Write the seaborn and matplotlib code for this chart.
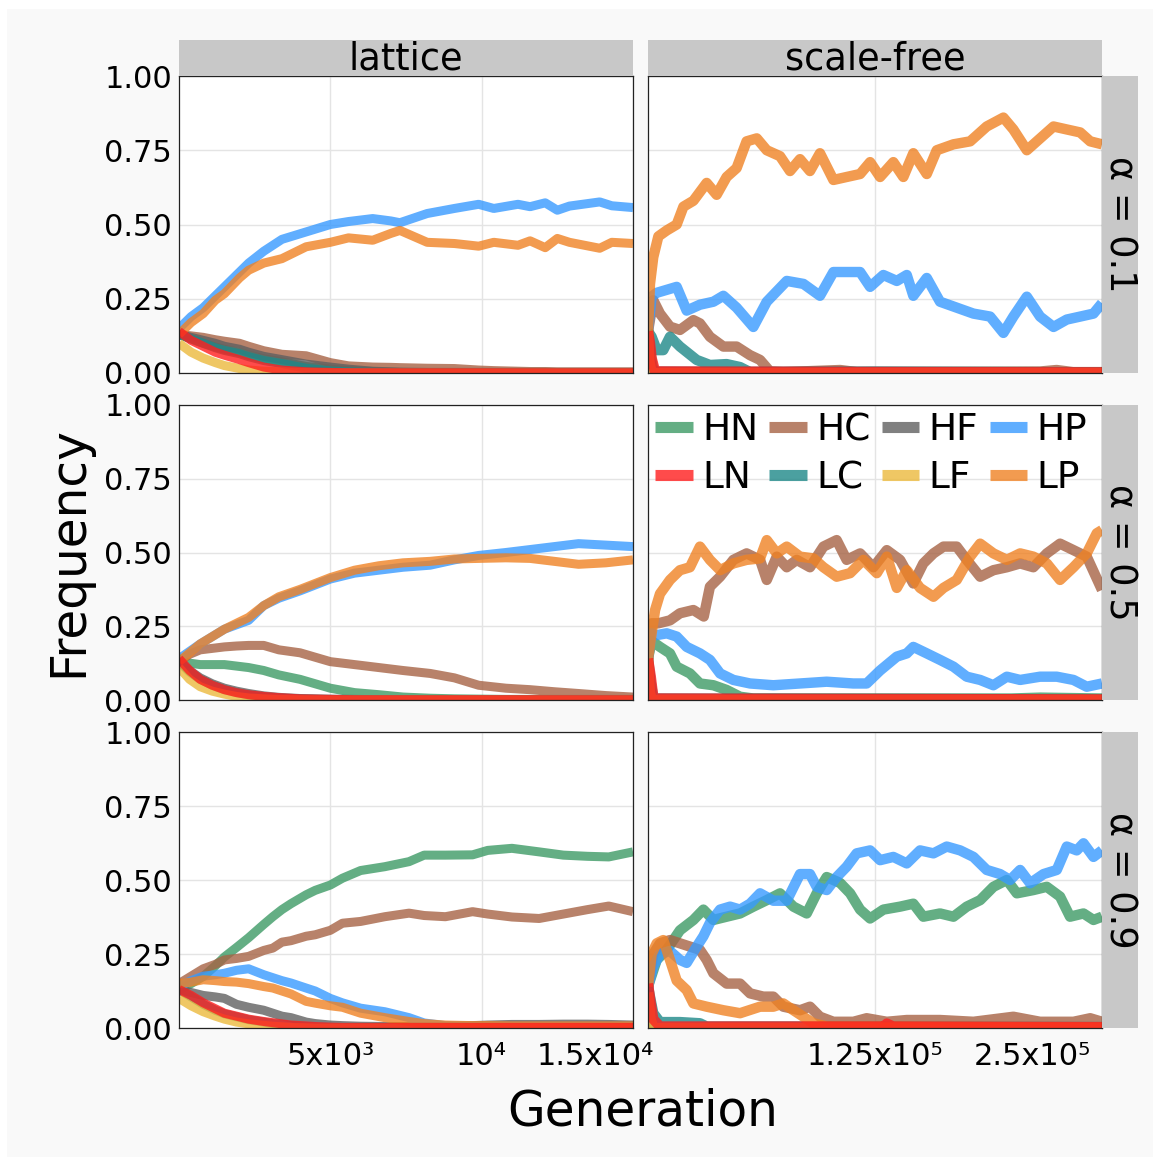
import numpy as np
import pandas as pd
import matplotlib
matplotlib.use("Agg")
import matplotlib.pyplot as plt
from matplotlib.patches import Rectangle
from matplotlib.lines import Line2D
import matplotlib.transforms as mtransforms
import seaborn as sns

# ---------------- data ----------------
strategies = ["HN", "HC", "HF", "HP", "LN", "LC", "LF", "LP"]
networks = ["lattice", "scale-free"]
alphas = ["α = 0.1", "α = 0.5", "α = 0.9"]

# lattice, alpha = 0.1 (generation grid shared by all strategies)
lat01_x = [0, 400, 800, 1200, 1500, 2000, 2300, 2800, 3400, 4200, 5000, 5600, 6400, 7000,
           7300, 8200, 9100, 9900, 10400, 11200, 11600, 12100, 12500, 12900, 13900, 14300, 15000]
lat01 = {
    "HP": [0.15, 0.19, 0.22, 0.26, 0.29, 0.34, 0.37, 0.41, 0.45, 0.475, 0.50, 0.51, 0.52, 0.512,
           0.506, 0.537, 0.554, 0.568, 0.554, 0.568, 0.56, 0.573, 0.548, 0.562, 0.576, 0.563, 0.557],
    "LP": [0.13, 0.17, 0.20, 0.245, 0.267, 0.32, 0.346, 0.37, 0.385, 0.425, 0.44, 0.455, 0.447, 0.47,
           0.48, 0.44, 0.436, 0.427, 0.44, 0.43, 0.445, 0.422, 0.453, 0.44, 0.42, 0.44, 0.436],
    "HC": [0.13, 0.125, 0.12, 0.112, 0.107, 0.1, 0.09, 0.075, 0.063, 0.058, 0.035, 0.024, 0.02, 0.019,
           0.018, 0.016, 0.015, 0.01, 0.008, 0.006, 0.005, 0.005, 0.004, 0.004, 0.004, 0.004, 0.004],
    "HF": [0.13, 0.12, 0.11, 0.1, 0.09, 0.08, 0.07, 0.056, 0.045, 0.03, 0.02, 0.013, 0.006, 0.004,
           0.003, 0.002, 0.002, 0.002, 0.002, 0.002, 0.002, 0.002, 0.002, 0.002, 0.002, 0.002, 0.002],
    "HN": [0.13, 0.115, 0.1, 0.088, 0.08, 0.07, 0.06, 0.048, 0.038, 0.022, 0.013, 0.008, 0.005, 0.003,
           0.002, 0.001, 0.001, 0.001, 0.001, 0.001, 0.001, 0.001, 0.001, 0.001, 0.001, 0.001, 0.001],
    "LC": [0.13, 0.115, 0.1, 0.085, 0.076, 0.065, 0.055, 0.042, 0.032, 0.016, 0.007, 0.004, 0.002, 0.001,
           0.001, 0.001, 0.001, 0.001, 0.001, 0.001, 0.001, 0.001, 0.001, 0.001, 0.001, 0.001, 0.001],
    "LN": [0.14, 0.11, 0.09, 0.07, 0.06, 0.045, 0.035, 0.02, 0.01, 0.004, 0.002, 0.001, 0.001, 0.001,
           0.001, 0.001, 0.001, 0.001, 0.001, 0.001, 0.001, 0.001, 0.001, 0.001, 0.001, 0.001, 0.001],
    "LF": [0.10, 0.07, 0.05, 0.035, 0.025, 0.015, 0.01, 0.006, 0.004, 0.002, 0.001, 0.0, 0.0, 0.0,
           0.0, 0.0, 0.0, 0.0, 0.0, 0.0, 0.0, 0.0, 0.0, 0.0, 0.0, 0.0, 0.0],
}

# lattice, alpha = 0.5
lat05_x = [0, 350, 700, 1100, 1500, 1900, 2300, 2800, 3300, 4000, 5000, 5800, 6600, 7400, 8300,
           9100, 9900, 10800, 11600, 12400, 13200, 14100, 15000]
lat05 = {
    "HP": [0.14, 0.165, 0.19, 0.215, 0.24, 0.255, 0.27, 0.32, 0.345, 0.37, 0.41, 0.43, 0.44, 0.45,
           0.457, 0.475, 0.49, 0.5, 0.51, 0.52, 0.53, 0.525, 0.52],
    "LP": [0.13, 0.16, 0.19, 0.215, 0.24, 0.26, 0.28, 0.32, 0.35, 0.375, 0.415, 0.44, 0.455, 0.465,
           0.47, 0.478, 0.48, 0.482, 0.48, 0.47, 0.46, 0.465, 0.475],
    "HC": [0.13, 0.155, 0.17, 0.175, 0.18, 0.183, 0.185, 0.185, 0.17, 0.16, 0.13, 0.12, 0.11, 0.1,
           0.09, 0.075, 0.05, 0.04, 0.035, 0.028, 0.022, 0.015, 0.01],
    "HN": [0.13, 0.125, 0.12, 0.12, 0.12, 0.115, 0.11, 0.1, 0.085, 0.07, 0.04, 0.025, 0.018, 0.01,
           0.006, 0.004, 0.003, 0.002, 0.002, 0.002, 0.002, 0.002, 0.002],
    "HF": [0.13, 0.1, 0.075, 0.055, 0.04, 0.03, 0.022, 0.014, 0.009, 0.005, 0.003, 0.002, 0.001, 0.001,
           0.001, 0.001, 0.001, 0.001, 0.001, 0.001, 0.001, 0.001, 0.001],
    "LC": [0.13, 0.095, 0.07, 0.05, 0.035, 0.025, 0.017, 0.01, 0.006, 0.003, 0.001, 0.0, 0.0, 0.0,
           0.0, 0.0, 0.0, 0.0, 0.0, 0.0, 0.0, 0.0, 0.0],
    "LN": [0.14, 0.1, 0.07, 0.05, 0.035, 0.025, 0.018, 0.012, 0.008, 0.004, 0.002, 0.001, 0.001, 0.001,
           0.001, 0.001, 0.001, 0.001, 0.001, 0.001, 0.001, 0.001, 0.001],
    "LF": [0.11, 0.07, 0.045, 0.03, 0.02, 0.012, 0.007, 0.004, 0.002, 0.001, 0.0, 0.0, 0.0, 0.0,
           0.0, 0.0, 0.0, 0.0, 0.0, 0.0, 0.0, 0.0, 0.0],
}

# lattice, alpha = 0.9
lat09_x = [0, 400, 800, 1200, 1500, 1900, 2300, 2800, 3100, 3400, 3700, 4200, 4500, 5000, 5400,
           6000, 6800, 7600, 8100, 8800, 9700, 10200, 11000, 11900, 12700, 13500, 14200, 15000]
lat09 = {
    "HN": [0.13, 0.15, 0.174, 0.21, 0.24, 0.272, 0.305, 0.35, 0.376, 0.4, 0.42, 0.45, 0.465, 0.483,
           0.506, 0.532, 0.545, 0.562, 0.584, 0.584, 0.585, 0.6, 0.607, 0.595, 0.584, 0.58, 0.578, 0.595],
    "HC": [0.15, 0.175, 0.2, 0.215, 0.23, 0.235, 0.242, 0.262, 0.27, 0.29, 0.295, 0.31, 0.315, 0.33,
           0.354, 0.36, 0.376, 0.388, 0.38, 0.376, 0.393, 0.385, 0.375, 0.37, 0.385, 0.4, 0.412, 0.393],
    "HP": [0.14, 0.16, 0.175, 0.18, 0.185, 0.195, 0.2, 0.18, 0.17, 0.16, 0.152, 0.135, 0.125, 0.1,
           0.085, 0.067, 0.055, 0.035, 0.017, 0.008, 0.005, 0.004, 0.004, 0.004, 0.004, 0.004, 0.004, 0.004],
    "LP": [0.15, 0.155, 0.163, 0.16, 0.157, 0.155, 0.15, 0.14, 0.135, 0.125, 0.115, 0.09, 0.084, 0.075,
           0.07, 0.05, 0.035, 0.022, 0.015, 0.01, 0.008, 0.008, 0.007, 0.007, 0.007, 0.007, 0.007, 0.007],
    "HF": [0.13, 0.12, 0.11, 0.105, 0.1, 0.08, 0.07, 0.06, 0.05, 0.04, 0.035, 0.02, 0.015, 0.01,
           0.008, 0.006, 0.005, 0.005, 0.005, 0.006, 0.008, 0.01, 0.012, 0.012, 0.013, 0.013, 0.012, 0.01],
    "LN": [0.13, 0.11, 0.085, 0.065, 0.05, 0.04, 0.03, 0.022, 0.018, 0.014, 0.01, 0.007, 0.005, 0.003,
           0.002, 0.002, 0.002, 0.002, 0.002, 0.002, 0.002, 0.002, 0.002, 0.002, 0.002, 0.002, 0.002, 0.002],
    "LC": [0.13, 0.105, 0.08, 0.06, 0.048, 0.038, 0.028, 0.02, 0.015, 0.011, 0.008, 0.005, 0.003, 0.002,
           0.001, 0.001, 0.001, 0.001, 0.001, 0.001, 0.001, 0.001, 0.001, 0.001, 0.001, 0.001, 0.001, 0.001],
    "LF": [0.1, 0.075, 0.055, 0.04, 0.03, 0.02, 0.014, 0.009, 0.006, 0.004, 0.002, 0.001, 0.0, 0.0,
           0.0, 0.0, 0.0, 0.0, 0.0, 0.0, 0.0, 0.0, 0.0, 0.0, 0.0, 0.0, 0.0, 0.0],
}

# scale-free panels: each strategy has (generation in thousands, frequency)
sf01 = {
    "LP": ([0, 1.1, 2.9, 5.7, 10.3, 15.8, 19.5, 25, 32.3, 37.8, 43.3, 48.8, 54.3, 59.9, 65.4, 72.7,
            78.2, 83.7, 89.2, 94.7, 102.1, 109.4, 116.8, 122.3, 127.8, 135.1, 140.6, 146.1, 153.5,
            159, 168.2, 177.4, 186.5, 195.7, 201.2, 208.6, 214.1, 223.3, 230.6, 238, 243.5, 250],
           [0.14, 0.3, 0.39, 0.46, 0.48, 0.50, 0.56, 0.58, 0.64, 0.60, 0.66, 0.69, 0.78, 0.79, 0.75, 0.73,
            0.68, 0.72, 0.68, 0.74, 0.65, 0.66, 0.67, 0.71, 0.66, 0.71, 0.66, 0.74, 0.67,
            0.75, 0.77, 0.78, 0.83, 0.86, 0.82, 0.75, 0.78, 0.83, 0.82, 0.81, 0.78, 0.77]),
    "HP": ([0, 2, 4.8, 10.3, 15.8, 21.3, 28.6, 36, 41.5, 48.8, 58, 65.4, 76.4, 85.6, 94.7, 102.1,
            109.4, 116.8, 122.3, 129.6, 137, 142.5, 146.1, 153.5, 160.8, 170, 179.2, 188.4, 195.7,
            201.2, 208.6, 215.9, 223.3, 230.6, 238, 245.3, 250],
           [0.14, 0.257, 0.27, 0.28, 0.29, 0.21, 0.23, 0.24, 0.26, 0.22, 0.155, 0.24, 0.31, 0.30, 0.26, 0.34,
            0.34, 0.34, 0.29, 0.33, 0.31, 0.33, 0.26, 0.32, 0.24, 0.22, 0.20, 0.19, 0.135,
            0.19, 0.257, 0.19, 0.155, 0.18, 0.19, 0.20, 0.235]),
    "HC": ([0, 2.9, 6.6, 12.1, 17.6, 25, 28.6, 34.1, 41.5, 48.8, 56.2, 61.7, 67.2, 74.5, 105.8, 115,
            216, 225, 234, 250],
           [0.14, 0.245, 0.20, 0.156, 0.145, 0.178, 0.167, 0.122, 0.089, 0.089, 0.06, 0.044, 0.005, 0.003,
            0.01, 0.003, 0.005, 0.01, 0.003, 0.003]),
    "LC": ([0, 2, 4.8, 8.4, 12.1, 17.6, 26.8, 34.1, 43.3, 50.7, 56.2, 124, 250],
           [0.14, 0.122, 0.077, 0.077, 0.122, 0.089, 0.044, 0.027, 0.03, 0.02, 0.003, 0.005, 0.002]),
    "HN": ([0, 1.5, 3, 5, 250], [0.14, 0.06, 0.01, 0.002, 0.002]),
    "HF": ([0, 1, 2.5, 250], [0.14, 0.05, 0.005, 0.0]),
    "LF": ([0, 0.8, 2, 250], [0.14, 0.04, 0.0, 0.0]),
    "LN": ([0, 1.1, 2, 3.9, 250], [0.14, 0.1, 0.05, 0.005, 0.002]),
}

sf05 = {
    "LP": ([0, 2, 3.9, 6.6, 12.1, 17.6, 23.1, 28.6, 34.1, 39.7, 47, 54.3, 61.7, 65.4, 70.9, 76.4,
            83.7, 91.1, 96.6, 103.9, 111.3, 118.6, 126, 131.5, 137, 142.5, 149.8, 157.2, 162.7, 170,
            177.4, 182.9, 190.2, 197.6, 204.9, 212.2, 219.6, 226.9, 234.3, 241.6, 247.1, 250],
           [0.14, 0.226, 0.305, 0.36, 0.407, 0.44, 0.45, 0.52, 0.475, 0.44, 0.463, 0.475, 0.48, 0.542,
            0.497, 0.52, 0.486, 0.48, 0.45, 0.418, 0.43, 0.475, 0.43, 0.486, 0.38, 0.44, 0.38, 0.35,
            0.38, 0.407, 0.486, 0.53, 0.497, 0.475, 0.497, 0.486, 0.463, 0.407, 0.45, 0.497, 0.565, 0.576]),
    "HC": ([0, 2, 5.7, 12.1, 17.6, 25, 30.7, 34.1, 39.7, 47, 54.3, 61.7, 65.4, 70.9, 76.4, 81.9,
            89.2, 96.6, 103.9, 109.4, 116.8, 124.1, 131.5, 138.8, 146.1, 151.6, 157.2, 162.7, 170,
            175.5, 182.9, 190.2, 197.6, 204.9, 212.2, 219.6, 226.9, 234.3, 241.6, 250],
           [0.14, 0.26, 0.26, 0.27, 0.294, 0.305, 0.283, 0.384, 0.418, 0.475, 0.497, 0.475, 0.407, 0.486,
            0.45, 0.475, 0.45, 0.52, 0.542, 0.475, 0.497, 0.45, 0.508, 0.475, 0.395, 0.463, 0.497, 0.52,
            0.52, 0.475, 0.418, 0.44, 0.45, 0.463, 0.45, 0.497, 0.53, 0.508, 0.486, 0.373]),
    "HP": ([0, 2, 4.8, 10.3, 15.8, 21.3, 28.6, 34.1, 39.7, 47, 56.2, 69, 83.7, 98.4, 113, 120.4,
            127.8, 137, 142.5, 146.1, 153.5, 160.8, 168.2, 175.5, 182.9, 190.2, 197.6, 204.9, 215.9,
            225.1, 234.3, 241.6, 250],
           [0.14, 0.226, 0.22, 0.226, 0.215, 0.18, 0.158, 0.136, 0.09, 0.068, 0.056, 0.05, 0.056, 0.062,
            0.056, 0.056, 0.1, 0.147, 0.158, 0.18, 0.158, 0.136, 0.113, 0.079, 0.068, 0.05, 0.079, 0.068,
            0.079, 0.079, 0.068, 0.045, 0.056]),
    "HN": ([0, 2, 6.6, 12.1, 15.8, 23.1, 28.6, 36, 43.3, 50.7, 58, 200, 216, 250],
           [0.14, 0.2, 0.18, 0.158, 0.113, 0.09, 0.056, 0.05, 0.034, 0.011, 0.005, 0.005, 0.008, 0.005]),
    "HF": ([0, 1.2, 2.5, 250], [0.14, 0.04, 0.0, 0.0]),
    "LC": ([0, 1.5, 3, 250], [0.14, 0.06, 0.005, 0.002]),
    "LF": ([0, 1, 2, 250], [0.14, 0.03, 0.0, 0.0]),
    "LN": ([0, 1.5, 3, 250], [0.14, 0.08, 0.005, 0.002]),
}

sf09 = {
    "HN": ([0, 4.8, 10.3, 17.6, 25, 30.5, 36, 43.3, 50.7, 58, 65.4, 72.7, 80.1, 87.4, 92.9, 98.4,
            105.8, 111.3, 116.8, 122.3, 129.6, 138.8, 146.1, 151.6, 160.8, 168.2, 175.5, 182.9, 190.2,
            197.6, 203.1, 212.2, 219.6, 226.9, 232.4, 239.8, 245.3, 250],
           [0.14, 0.23, 0.264, 0.33, 0.365, 0.4, 0.365, 0.376, 0.387, 0.41, 0.432, 0.455, 0.41, 0.387,
            0.455, 0.51, 0.49, 0.455, 0.4, 0.37, 0.4, 0.41, 0.42, 0.376, 0.387, 0.376, 0.41, 0.432,
            0.477, 0.5, 0.455, 0.466, 0.477, 0.444, 0.376, 0.387, 0.365, 0.376]),
    "HC": ([0, 2.9, 6.6, 12.1, 17.6, 23.1, 28.6, 32.3, 36, 43.3, 50.7, 56.2, 63.5, 69, 74.5, 83.7,
            89.2, 94.7, 102.1, 113.1, 120.4, 131.5, 142.5, 160.8, 179.2, 201.2, 215.9, 234.3, 243.5, 250],
           [0.14, 0.25, 0.286, 0.297, 0.286, 0.275, 0.264, 0.23, 0.185, 0.15, 0.15, 0.117, 0.106, 0.106,
            0.072, 0.06, 0.072, 0.038, 0.021, 0.021, 0.033, 0.021, 0.027, 0.027, 0.021, 0.038, 0.021,
            0.021, 0.033, 0.021]),
    "HF": ([0, 1.5, 3, 250], [0.14, 0.03, 0.0, 0.0]),
    "HP": ([0, 2.9, 6.6, 12.1, 17.6, 21.3, 26.8, 30.5, 34.1, 39.7, 45.2, 50.7, 56.2, 61.7, 69, 76.4,
            83.7, 89.2, 92.9, 98.4, 103.9, 109.4, 114.9, 122.3, 127.8, 135.1, 142.5, 149.8, 157.2,
            164.5, 171.9, 179.2, 186.5, 193.9, 199.4, 204.9, 210.4, 217.8, 225.1, 230.6, 236.1, 239.8,
            245.3, 250],
           [0.14, 0.207, 0.25, 0.26, 0.23, 0.22, 0.275, 0.31, 0.355, 0.4, 0.41, 0.4, 0.42, 0.455, 0.43,
            0.43, 0.52, 0.52, 0.477, 0.466, 0.51, 0.545, 0.59, 0.6, 0.567, 0.578, 0.556, 0.6, 0.59,
            0.613, 0.6, 0.578, 0.534, 0.52, 0.5, 0.534, 0.489, 0.52, 0.534, 0.613, 0.6, 0.624, 0.578, 0.6]),
    "LC": ([0, 2.9, 6.6, 17.6, 28.6, 32.3, 80, 250], [0.14, 0.05, 0.02, 0.02, 0.016, 0.005, 0.005, 0.003]),
    "LF": ([0, 1.5, 3, 250], [0.12, 0.03, 0.0, 0.0]),
    "LP": ([0, 2, 4.8, 8.4, 12.1, 15.8, 21.3, 25, 32.3, 41.5, 50.7, 61.7, 69, 74.5, 80.1, 85.6, 91.1,
            98.4, 250],
           [0.14, 0.25, 0.286, 0.297, 0.23, 0.16, 0.128, 0.083, 0.072, 0.06, 0.05, 0.072, 0.072, 0.083,
            0.06, 0.038, 0.016, 0.005, 0.002]),
    "LN": ([0, 1.1, 2.9, 6.6, 130, 131.5, 135, 250], [0.15, 0.1, 0.03, 0.005, 0.005, 0.015, 0.005, 0.003]),
}

colors = {
    "HN": "#3d9a66", "HC": "#a66345", "HF": "#606060", "HP": "#389aff",
    "LN": "#ff1e1e", "LC": "#1e8888", "LF": "#ecba3d", "LP": "#ef8224",
}
draw_order = ["HN", "HC", "HF", "HP", "LC", "LF", "LP", "LN"]

# ---------------- tidy frame ----------------
records = []
lat_panels = {alphas[0]: (lat01_x, lat01), alphas[1]: (lat05_x, lat05), alphas[2]: (lat09_x, lat09)}
for a, (gx, d) in lat_panels.items():
    for s, ys in d.items():
        for g, v in zip(gx, ys):
            records.append(("lattice", a, s, g, v))
sf_panels = {alphas[0]: sf01, alphas[1]: sf05, alphas[2]: sf09}
for a, d in sf_panels.items():
    for s, (xs, ys) in d.items():
        for g, v in zip(xs, ys):
            records.append(("scale-free", a, s, g * 1000.0, v))
df = pd.DataFrame(records, columns=["network", "alpha", "strategy", "generation", "frequency"])

# ---------------- figure ----------------
sns.set_theme(style="white")
plt.rcParams["font.family"] = ["DejaVu Sans"]
plt.rcParams["text.color"] = "black"
plt.rcParams["xtick.color"] = "black"
plt.rcParams["ytick.color"] = "black"
plt.rcParams["axes.labelcolor"] = "black"
W, H = 1160, 1164
fig = plt.figure(figsize=(W / 100, H / 100), dpi=100, facecolor="white")
fig.patches.append(Rectangle((7 / W, 1 - 1157 / H), 1146 / W, 1148 / H, transform=fig.transFigure,
                             facecolor="#f9f9f9", edgecolor="none", zorder=-10))

col_left = [179, 648]
col_w = 454
row_top = [76, 405, 732]
row_h = [297, 295, 296]
xlims = {"lattice": (0, 15000), "scale-free": (0, 250000)}
xticks = {"lattice": [5000, 10000, 15000], "scale-free": [125000, 250000]}
xlabels = {"lattice": ["5x10³", "10⁴", "1.5x10⁴"], "scale-free": ["1.25x10⁵", "2.5x10⁵"]}
last_shift = {"lattice": -38, "scale-free": -70}
line_w = {"lattice": 6.5, "scale-free": 7.5}
strip_color = "#c8c8c8"

for r, a in enumerate(alphas):
    for c, net in enumerate(networks):
        ax = fig.add_axes([col_left[c] / W, 1 - (row_top[r] + row_h[r]) / H, col_w / W, row_h[r] / H])
        ax.set_facecolor("white")
        sub = df[(df.network == net) & (df.alpha == a)]
        sns.lineplot(data=sub, x="generation", y="frequency", hue="strategy", hue_order=draw_order,
                     palette=colors, estimator=None, sort=False, lw=line_w[net], alpha=0.8,
                     legend=False, ax=ax)
        for ln in ax.lines:
            ln.set_solid_capstyle("butt")
            ln.set_solid_joinstyle("round")
        ax.set_xlim(*xlims[net])
        ax.set_ylim(0, 1)
        ax.set_xlabel("")
        ax.set_ylabel("")
        ax.set_yticks([0, 0.25, 0.5, 0.75, 1.0])
        ax.set_xticks(xticks[net])
        ax.grid(True, color="#e4e4e4", lw=1.0)
        ax.set_axisbelow(True)
        for sp in ax.spines.values():
            sp.set_color("#222222")
            sp.set_linewidth(0.9)
        if c == 0:
            ax.set_yticklabels(["0.00", "0.25", "0.50", "0.75", "1.00"], fontsize=22, color="black")
            ax.tick_params(axis="y", length=4, width=1, color="#333333", pad=1)
        else:
            ax.tick_params(axis="y", length=0, labelleft=False)
        if r == 2:
            ax.set_xticklabels(xlabels[net], fontsize=22, color="black")
            ax.tick_params(axis="x", length=4, width=1, color="#333333", pad=6)
            lbls = ax.get_xticklabels()
            off = mtransforms.ScaledTranslation(last_shift[net] / 100, 0, fig.dpi_scale_trans)
            lbls[-1].set_transform(lbls[-1].get_transform() + off)
        else:
            ax.tick_params(axis="x", length=0, labelbottom=False)

# strips on top
for c, net in enumerate(networks):
    fig.patches.append(Rectangle((col_left[c] / W, 1 - 76 / H), col_w / W, 36 / H,
                                 transform=fig.transFigure, facecolor=strip_color, edgecolor="none"))
    fig.text((col_left[c] + col_w / 2) / W, 1 - 59 / H, net, ha="center", va="center",
             fontsize=26.5, color="black")

# strips on right
for r, a in enumerate(alphas):
    fig.patches.append(Rectangle((1102 / W, 1 - (row_top[r] + row_h[r]) / H), 36 / W, row_h[r] / H,
                                 transform=fig.transFigure, facecolor=strip_color, edgecolor="none"))
    fig.text(1120 / W, 1 - (row_top[r] + row_h[r] / 2) / H, a, ha="center", va="center",
             rotation=-90, fontsize=26.5, color="black")

fig.text(68 / W, 1 - 552 / H, "Frequency", ha="center", va="center", rotation=90, fontsize=35,
         color="black")
fig.text(643 / W, 1 - 1112 / H, "Generation", ha="center", va="center", fontsize=35, color="black")

# legend (row-wise order HN HC HF HP / LN LC LF LP)
leg_order = ["HN", "LN", "HC", "LC", "HF", "LF", "HP", "LP"]
handles = [Line2D([0], [0], color=colors[s], lw=8, alpha=0.8, solid_capstyle="butt") for s in leg_order]
leg = fig.legend(handles, leg_order, loc="upper left", bbox_to_anchor=(655 / W, 1 - 412 / H), ncol=4,
                 frameon=False, fontsize=27, handlelength=1.0, handletextpad=0.25, columnspacing=0.3,
                 labelspacing=0.33, borderpad=0.0, borderaxespad=0.0)
for t in leg.get_texts():
    t.set_color("black")

fig.savefig("out.png", dpi=100, facecolor="white")
